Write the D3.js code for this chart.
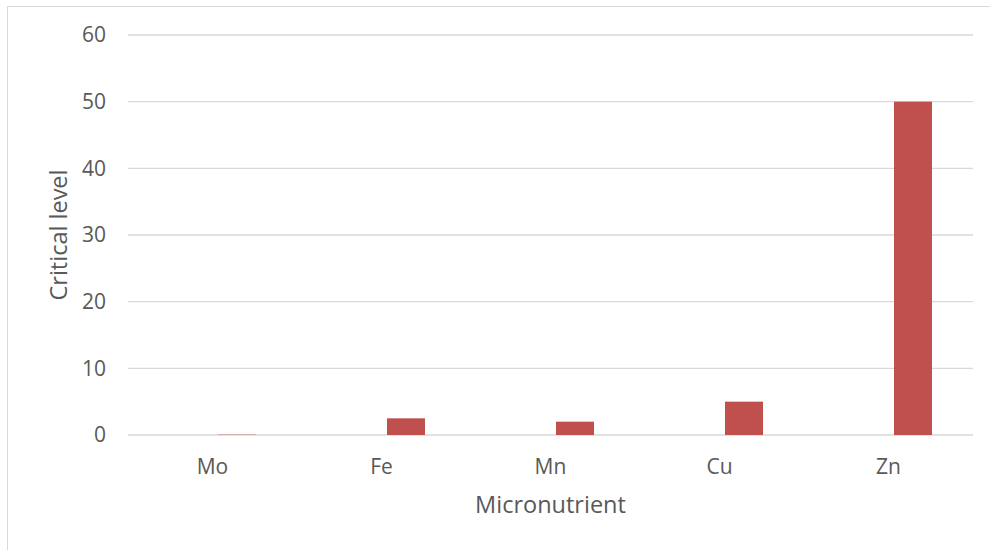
<!DOCTYPE html>
<html><head><meta charset="utf-8">
<script src="https://cdn.jsdelivr.net/npm/d3@7"></script>
<style>body{margin:0;background:#fff;} text{font-family:"Open Sans",sans-serif;fill:#595959;}</style>
</head><body><svg id="c" width="990" height="550"></svg>
<script>
const categories = ["Mo", "Fe", "Mn", "Cu", "Zn"];
const seriesNames = ["blank", "Critical level"];
const blankValues = [0, 0, 0, 0, 0];
const criticalValues = [0.05, 2.5, 2, 5, 50];
const yTicks = [0, 10, 20, 30, 40, 50, 60];

const svg = d3.select("#c");
svg.append("rect").attr("x", 7.5).attr("y", 6.5).attr("width", 1000).attr("height", 600)
  .attr("fill", "#fff").attr("stroke", "#d9d9d9");

const L = 128, R = 973, T = 35, B = 435;
const x = d3.scaleBand().domain(categories).range([L, R]);
const x1 = d3.scaleBand().domain(seriesNames).range([-43.5, 43.5]).paddingInner(0.2245);
const y = d3.scaleLinear().domain([0, 60]).range([B, T]);

const g = svg.append("g");
g.selectAll("line.grid").data(yTicks).join("line")
  .attr("x1", L).attr("x2", R).attr("y1", d => y(d)).attr("y2", d => y(d))
  .attr("stroke", "#d9d9d9").attr("stroke-width", 1.3);

g.selectAll("text.yt").data(yTicks).join("text")
  .attr("x", 106).attr("y", d => y(d)).attr("dy", "0.35em")
  .attr("text-anchor", "end").attr("font-size", 21).text(d => d);

const data = categories.map((c, i) => ({c, v: criticalValues[i], b: blankValues[i]}));
g.selectAll("rect.bar").data(data).join("rect")
  .attr("x", d => x(d.c) + x.bandwidth() / 2 + x1("Critical level"))
  .attr("width", x1.bandwidth())
  .attr("y", d => y(d.v)).attr("height", d => y(0) - y(d.v))
  .attr("fill", "#C0504D");

g.selectAll("text.xt").data(categories).join("text")
  .attr("x", d => x(d) + x.bandwidth() / 2).attr("y", 467).attr("dy", "0.35em")
  .attr("text-anchor", "middle").attr("font-size", 21).text(d => d);

svg.append("text").attr("x", 550.5).attr("y", 505).attr("dy", "0.35em")
  .attr("text-anchor", "middle").attr("font-size", 23.5).text("Micronutrient");
svg.append("text").attr("transform", "translate(59,235) rotate(-90)").attr("dy", "0.35em")
  .attr("text-anchor", "middle").attr("font-size", 23.5).text("Critical level");
</script></body></html>
